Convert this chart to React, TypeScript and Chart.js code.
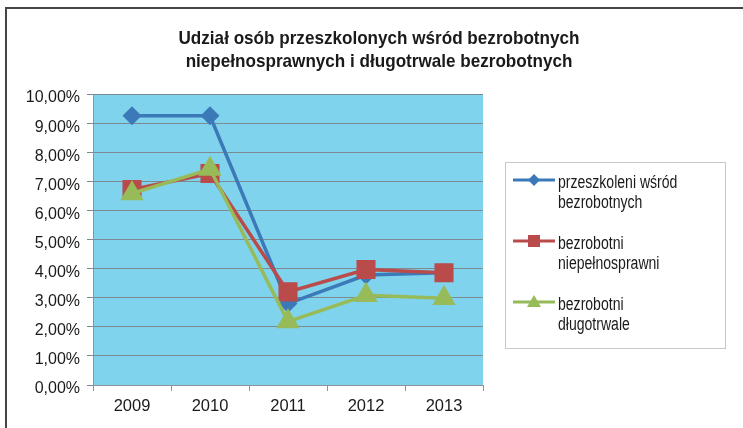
import React, { useEffect, useRef } from "react";
import { Chart, registerables } from "chart.js";

Chart.register(...registerables);

const years = ["2009", "2010", "2011", "2012", "2013"];
const przeszkoleni = [9.25, 9.25, 2.8, 3.78, 3.86];
const niepelnosprawni = [6.72, 7.27, 3.2, 3.97, 3.86];
const dlugotrwale = [6.58, 7.42, 2.18, 3.08, 2.98];
const yTicks = [0, 1, 2, 3, 4, 5, 6, 7, 8, 9, 10];
const titleLines = [
  "Udział osób przeszkolonych wśród bezrobotnych",
  "niepełnosprawnych i długotrwale bezrobotnych",
];
const legendLabels = [
  ["przeszkoleni wśród", "bezrobotnych"],
  ["bezrobotni", "niepełnosprawni"],
  ["bezrobotni", "długotrwale"],
];

const FONT = '"Liberation Sans", Arial, sans-serif';
const BLUE = "#3b79b8";
const RED = "#b94b4a";
const GREEN = "#98bb5a";

export default function App() {
  const ref = useRef<HTMLCanvasElement | null>(null);
  useEffect(() => {
    if (!ref.current) return;
    const decor = {
      id: "decor",
      beforeDraw(chart: any) {
        const { ctx, chartArea } = chart;
        ctx.save();
        ctx.fillStyle = "#ffffff";
        ctx.fillRect(0, 0, chart.width, chart.height);
        ctx.fillStyle = "#7fd3ec";
        ctx.fillRect(chartArea.left, chartArea.top, chartArea.right - chartArea.left, chartArea.bottom - chartArea.top);
        ctx.restore();
      },
      afterDraw(chart: any) {
        const { ctx } = chart;
        ctx.save();
        // outer frame
        ctx.strokeStyle = "#454545";
        ctx.lineWidth = 2;
        ctx.beginPath();
        ctx.moveTo(6, 428);
        ctx.lineTo(6, 8);
        ctx.lineTo(743, 8);
        ctx.stroke();
        // title (condensed look)
        ctx.fillStyle = "#1a1a1a";
        ctx.font = `bold 19px ${FONT}`;
        ctx.textAlign = "center";
        ctx.textBaseline = "middle";
        titleLines.forEach((t, i) => {
          ctx.save();
          ctx.translate(379, 39 + i * 23);
          ctx.scale(0.9, 1);
          ctx.fillText(t, 0, 0);
          ctx.restore();
        });
        // legend box
        ctx.strokeStyle = "#c8c8c8";
        ctx.lineWidth = 1;
        ctx.strokeRect(505.5, 162.5, 220, 186);
        const rows = [180, 241, 302];
        chart.data.datasets.forEach((ds: any, i: number) => {
          const y = rows[i];
          ctx.strokeStyle = ds.borderColor;
          ctx.lineWidth = 3;
          ctx.beginPath();
          ctx.moveTo(513, y);
          ctx.lineTo(555, y);
          ctx.stroke();
          ctx.fillStyle = ds.borderColor;
          ctx.beginPath();
          if (ds.pointStyle === "rectRot") {
            ctx.moveTo(534, y - 6);
            ctx.lineTo(540, y);
            ctx.lineTo(534, y + 6);
            ctx.lineTo(528, y);
          } else if (ds.pointStyle === "rect") {
            ctx.rect(528, y - 6, 12, 12);
          } else {
            ctx.moveTo(534, y - 7);
            ctx.lineTo(541, y + 5);
            ctx.lineTo(527, y + 5);
          }
          ctx.closePath();
          ctx.fill();
          ctx.fillStyle = "#1a1a1a";
          ctx.font = `18px ${FONT}`;
          ctx.textAlign = "left";
          ctx.textBaseline = "middle";
          legendLabels[i].forEach((l, j) => {
            ctx.save();
            ctx.translate(558, y + 3 + j * 20);
            ctx.scale(0.78, 1);
            ctx.fillText(l, 0, 0);
            ctx.restore();
          });
        });
        ctx.restore();
      },
    };
    const chart = new Chart(ref.current, {
      type: "line",
      data: {
        labels: years,
        datasets: [
          {
            label: "przeszkoleni wśród bezrobotnych",
            data: przeszkoleni,
            order: 3,
            borderColor: BLUE,
            backgroundColor: BLUE,
            pointBackgroundColor: BLUE,
            pointBorderColor: BLUE,
            pointStyle: "rectRot",
            pointRadius: 7,
            borderWidth: 3.5,
          },
          {
            label: "bezrobotni niepełnosprawni",
            data: niepelnosprawni,
            order: 2,
            borderColor: RED,
            backgroundColor: RED,
            pointBackgroundColor: RED,
            pointBorderColor: RED,
            pointStyle: "rect",
            pointRadius: 11,
            borderWidth: 3.5,
          },
          {
            label: "bezrobotni długotrwale",
            data: dlugotrwale,
            order: 1,
            borderColor: GREEN,
            backgroundColor: GREEN,
            pointBackgroundColor: GREEN,
            pointBorderColor: GREEN,
            pointStyle: "triangle",
            pointRadius: 10,
            borderWidth: 3.5,
          },
        ],
      },
      options: {
        animation: false,
        responsive: false,
        maintainAspectRatio: false,
        layout: { padding: { left: 0, top: 94, right: 260, bottom: 0 } },
        plugins: { legend: { display: false }, title: { display: false }, tooltip: { enabled: false } },
        scales: {
          x: {
            offset: true,
            afterFit: (s: any) => { s.height = 43; },
            grid: { drawOnChartArea: false, offset: true, tickLength: 6, color: "#8a9499" },
            border: { color: "#8a9499", width: 1 },
            ticks: { color: "#1a1a1a", font: { family: FONT, size: 16.5 }, padding: 6 },
          },
          y: {
            min: 0,
            max: 10,
            afterFit: (s: any) => { s.width = 93; },
            afterBuildTicks: (s: any) => { s.ticks = yTicks.map((v) => ({ value: v })); },
            grid: { color: "#7d8a90", tickLength: 6 },
            border: { color: "#8a9499", width: 1 },
            ticks: {
              color: "#1a1a1a",
              font: { family: FONT, size: 16 },
              padding: 7,
              labelOffset: 4,
              callback: (v: any) => `${Number(v).toFixed(2).replace(".", ",")}%`,
            },
          },
        },
      },
      plugins: [decor],
    });
    return () => chart.destroy();
  }, []);
  return (
    <div style={{ position: "fixed", left: 0, top: 0, width: 743, height: 428, background: "#fff" }}>
      <canvas ref={ref} width={743} height={428} style={{ width: 743, height: 428, display: "block" }} />
    </div>
  );
}
